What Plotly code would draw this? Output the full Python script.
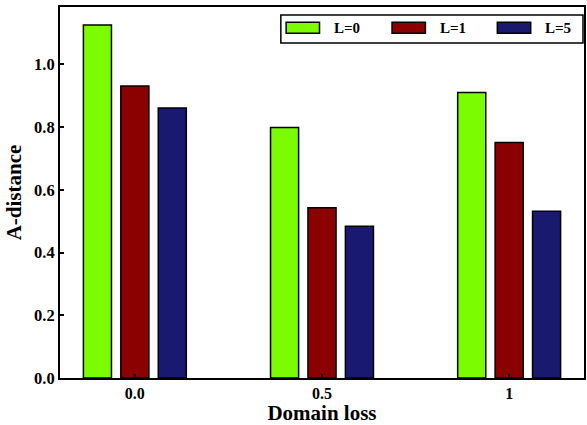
import plotly.graph_objects as go

categories = ["0.0", "0.5", "1"]
series_names = ["L=0", "L=1", "L=5"]
values_L0 = [1.126, 0.799, 0.910]
values_L1 = [0.931, 0.543, 0.751]
values_L5 = [0.861, 0.484, 0.532]
colors = ["#7CFC00", "#8B0000", "#191970"]
y_ticks = [0.0, 0.2, 0.4, 0.6, 0.8, 1.0]

FONT = "Liberation Serif, Times New Roman, serif"
W, H = 587, 425
ML, MR, MT, MB = 60, 1, 7, 43
PW, PH = W - ML - MR, H - MT - MB

xpos = list(range(len(categories)))
fig = go.Figure()
for name, vals, col in zip(series_names, [values_L0, values_L1, values_L5], colors):
    fig.add_trace(go.Bar(x=xpos, y=vals, name=name, marker=dict(color=col, line=dict(color="black", width=1.5)),
                         showlegend=False))

# custom legend (paper coordinates)
def px_x(p):
    return (p - ML) / PW

def px_y(p):
    return (H - MB - p) / PH

shapes = [dict(type="rect", xref="paper", yref="paper", x0=px_x(281.7), x1=px_x(585), y0=px_y(43.3), y1=px_y(15),
               line=dict(color="black", width=1.5), fillcolor="white", layer="above")]
annotations = []
sw_x = [287, 393.3, 499]
for i, (name, col) in enumerate(zip(series_names, colors)):
    shapes.append(dict(type="rect", xref="paper", yref="paper", x0=px_x(sw_x[i]), x1=px_x(sw_x[i] + 33.5),
                       y0=px_y(33.5), y1=px_y(22.5), fillcolor=col, line=dict(color="black", width=1.5), layer="above"))
    annotations.append(dict(xref="paper", yref="paper", x=px_x(sw_x[i] + 46), y=px_y(28.5), text="<b>%s</b>" % name,
                            showarrow=False, xanchor="left", yanchor="middle",
                            font=dict(family=FONT, size=15, color="black")))

fig.update_layout(
    width=W, height=H,
    margin=dict(l=ML, r=MR, t=MT, b=MB, pad=0),
    paper_bgcolor="white", plot_bgcolor="white",
    barmode="group", bargap=0.4, bargroupgap=0.25,
    font=dict(family=FONT, size=16, color="black"),
    shapes=shapes, annotations=annotations,
    xaxis=dict(range=[-0.4, 2.4], tickmode="array", tickvals=xpos,
               ticktext=["<b>%s</b>" % c for c in categories],
               ticks="inside", ticklen=4, tickwidth=1.5, tickcolor="black",
               showline=True, linecolor="black", linewidth=2, mirror=True, showgrid=False, zeroline=False,
               title=dict(text="<b>Domain loss</b>", font=dict(family=FONT, size=21), standoff=7),
               tickfont=dict(family=FONT, size=16)),
    yaxis=dict(range=[0, 1.183], tickmode="array", tickvals=y_ticks,
               ticktext=["<b>%.1f</b>" % v for v in y_ticks],
               ticks="inside", ticklen=4, tickwidth=1.5, tickcolor="black",
               showline=True, linecolor="black", linewidth=2, mirror=True, showgrid=False, zeroline=False,
               title=dict(text="<b>A-distance</b>", font=dict(family=FONT, size=21), standoff=7),
               tickfont=dict(family=FONT, size=16.5)),
)

fig.write_html("out.html", config={"displayModeBar": False},
               post_script="document.body.style.margin='0';document.body.style.overflow='hidden';")
